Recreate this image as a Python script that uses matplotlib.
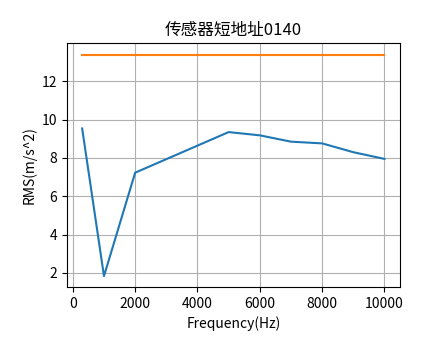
import matplotlib
matplotlib.use('Agg')
import matplotlib.pyplot as plt

plt.rcParams['font.family'] = ['Noto Sans CJK SC', 'DejaVu Sans']
plt.rcParams['axes.unicode_minus'] = False

# data
freq = [300, 1000, 2000, 5000, 6000, 7000, 8000, 9000, 10000]
rms = [9.54, 1.83, 7.23, 9.35, 9.18, 8.85, 8.76, 8.30, 7.95]
limit_x = [300, 10000]
limit_y = [13.40, 13.40]

fig = plt.figure(figsize=(4.44, 3.59), dpi=100)
ax = fig.add_subplot(111)
fig.subplots_adjust(left=0.151, right=0.9, top=0.879, bottom=0.2)

ax.plot(freq, rms)
ax.plot(limit_x, limit_y)

ax.set_title('传感器短地址0140')
ax.set_xlabel('Frequency(Hz)')
ax.set_ylabel('RMS(m/s^2)')
ax.grid(True)

plt.savefig('out.png', dpi=100)
